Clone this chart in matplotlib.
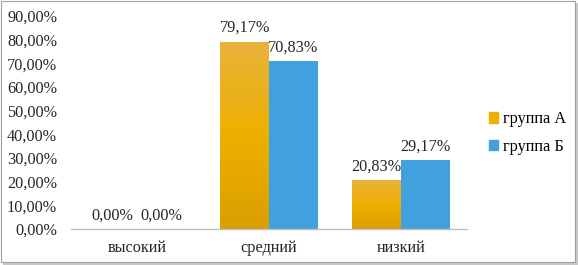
import matplotlib.pyplot as plt
import numpy as np
from matplotlib.colors import LinearSegmentedColormap
from matplotlib.patches import Rectangle, Patch
from matplotlib.ticker import FuncFormatter

plt.rcParams["font.family"] = ["Liberation Serif", "DejaVu Serif"]
plt.rcParams["font.size"] = 11.7

categories = ["высокий", "средний", "низкий"]
group_a = [0.0, 79.17, 20.83]
group_b = [0.0, 70.83, 29.17]
series_names = ["группа А", "группа Б"]

color_a = "#EDB000"
color_b = "#41A1DF"
grad_a = LinearSegmentedColormap.from_list("grad_a", ["#DA9F00", "#EDB000", "#E8B23C"])

W, H = 578, 265
fig = plt.figure(figsize=(W / 100, H / 100), dpi=100)

# outer border with a soft shadow
fig.patches.append(Rectangle((3 / W, 0), 1 - 3 / W, 1 - 3 / H, transform=fig.transFigure,
                             facecolor="#C8C8C8", edgecolor="none", zorder=-3))
fig.patches.append(Rectangle((0.5 / W, 3 / H), 1 - 4 / W, 1 - 3.5 / H, transform=fig.transFigure,
                             facecolor="white", edgecolor="#A0A0A0", linewidth=0.8, zorder=-2))

ax = fig.add_axes([71 / W, 1 - 229 / H, (467 - 71) / W, (229 - 16) / H])
ax.set_facecolor("none")

x = np.arange(len(categories))
width = 0.37
bars_a = ax.bar(x - width / 2, group_a, width, color=color_a, zorder=2)
bars_b = ax.bar(x + width / 2, group_b, width, color=color_b, zorder=2)

# vertical gradient on group A bars
for b in bars_a:
    if b.get_height() <= 0:
        continue
    x0, y0 = b.get_x(), b.get_y()
    im = ax.imshow(np.linspace(0, 1, 100).reshape(-1, 1), cmap=grad_a, aspect="auto",
                   extent=(x0, x0 + b.get_width(), y0, y0 + b.get_height()),
                   origin="lower", zorder=2.5)
    im.set_clip_path(b)

ax.set_xlim(-0.5, len(categories) - 0.5)
ax.set_ylim(0, 90)
ax.set_yticks(np.arange(0, 91, 10))
ax.yaxis.set_major_formatter(FuncFormatter(lambda v, p: f"{v:.2f}%".replace(".", ",")))
ax.set_xticks(x)
ax.set_xticklabels(categories)
ax.tick_params(axis="both", length=0, labelsize=11.7, colors="#262626")
ax.tick_params(axis="y", pad=10)
ax.tick_params(axis="x", pad=8)
for s in ["top", "right", "left"]:
    ax.spines[s].set_visible(False)
ax.spines["bottom"].set_color("#BFBFBF")
ax.spines["bottom"].set_linewidth(1)

for bars, vals in ((bars_a, group_a), (bars_b, group_b)):
    for b, v in zip(bars, vals):
        ax.annotate(f"{v:.2f}%".replace(".", ","), (b.get_x() + b.get_width() / 2, v),
                    xytext=(0, 4), textcoords="offset points", ha="center", va="bottom",
                    fontsize=11.7, color="#262626")

handles = [Patch(color=color_a), Patch(color=color_b)]
fig.legend(handles, series_names, loc="center left", bbox_to_anchor=(482 / W, 1 - 133 / H),
           frameon=False, fontsize=11.7, handlelength=0.6, handleheight=0.6,
           handletextpad=0.3, labelspacing=0.7, borderaxespad=0)

fig.savefig("out.png", dpi=100)
